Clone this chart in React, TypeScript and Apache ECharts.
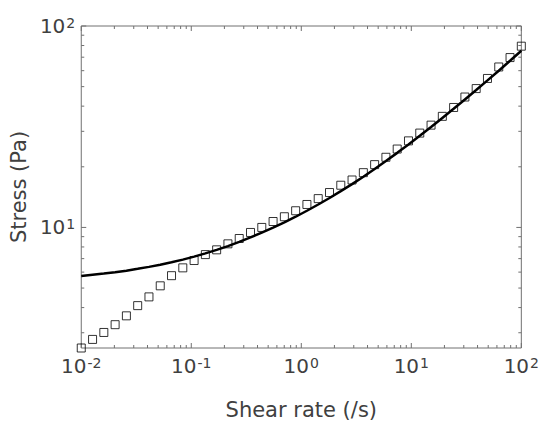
import React, { useEffect, useRef } from "react";
import * as echarts from "echarts";

// Measured data (shear rate in 1/s, stress in Pa)
const shearRate = [
  0.01, 0.01267, 0.01604, 0.02031, 0.02572, 0.03257, 0.04125, 0.05223, 0.06614, 0.08377,
  0.1061, 0.1343, 0.1701, 0.2154, 0.2728, 0.3455, 0.4375, 0.5541, 0.7017, 0.8886,
  1.125, 1.425, 1.805, 2.286, 2.894, 3.665, 4.642, 5.878, 7.444, 9.427,
  11.94, 15.12, 19.14, 24.24, 30.7, 38.88, 49.24, 62.35, 78.96, 100,
];
const stress = [
  2.52, 2.78, 3.01, 3.29, 3.64, 4.09, 4.52, 5.13, 5.76, 6.3,
  6.85, 7.33, 7.74, 8.29, 8.81, 9.44, 10.0, 10.7, 11.3, 12.1,
  13.0, 13.9, 14.9, 16.2, 17.2, 18.7, 20.5, 22.3, 24.5, 26.9,
  29.4, 32.2, 35.6, 39.4, 44.4, 48.9, 54.9, 62.6, 69.7, 79.4,
];

// Model fit curve at the same shear rates
const fitStress = [
  5.74, 5.82, 5.9, 5.99, 6.1, 6.23, 6.37, 6.53, 6.71, 6.92,
  7.16, 7.43, 7.74, 8.08, 8.48, 8.92, 9.42, 9.98, 10.6, 11.3,
  12.1, 13.0, 14.0, 15.15, 16.4, 17.85, 19.5, 21.35, 23.45, 25.8,
  28.5, 31.5, 34.95, 38.8, 43.2, 48.1, 53.7, 60.0, 67.2, 75.4,
];

// Axis ranges and ticks
const X_MIN = 0.01;
const X_MAX = 100;
const Y_MIN = 2.52;
const Y_MAX = 100;
const xMajorTicks = [0.01, 0.1, 1, 10, 100];
const xMinorTicks = [
  0.02, 0.03, 0.04, 0.05, 0.06, 0.07, 0.08, 0.09,
  0.2, 0.3, 0.4, 0.5, 0.6, 0.7, 0.8, 0.9,
  2, 3, 4, 5, 6, 7, 8, 9,
  20, 30, 40, 50, 60, 70, 80, 90,
];
const yMajorTicks = [10, 100];
const yMinorTicks = [3, 4, 5, 6, 7, 8, 9, 20, 30, 40, 50, 60, 70, 80, 90];

const TEXT = "#404040";
const AXIS = "#707070";
const FONT = "DejaVu Sans";

const MAJOR_LEN = 5;
const MINOR_LEN = 3;

function powLabel(v: number) {
  const l = Math.log10(v);
  const e = Math.round(l);
  if (Math.abs(l - e) > 1e-6) return "";
  return `{b|10}{s|${e}}`;
}

const richLabel = {
  b: { fontSize: 20, lineHeight: 20, verticalAlign: "bottom", color: TEXT, fontFamily: FONT },
  s: {
    fontSize: 14,
    lineHeight: 14,
    verticalAlign: "top",
    color: TEXT,
    fontFamily: FONT,
    padding: [0, 0, 11, 1],
  },
};

export default function App() {
  const ref = useRef<HTMLDivElement>(null);
  useEffect(() => {
    document.body.style.margin = "0";
    if (!ref.current) return;
    const chart = echarts.init(ref.current, undefined, { renderer: "svg" });

    const xTickRender = (params: any, api: any) => {
      const x = api.coord([api.value(0), api.value(1)])[0];
      const cs = params.coordSys;
      const len = api.value(2);
      const st = { stroke: AXIS, lineWidth: 1 };
      return {
        type: "group",
        children: [
          { type: "line", shape: { x1: x, y1: cs.y + cs.height, x2: x, y2: cs.y + cs.height - len }, style: st },
          { type: "line", shape: { x1: x, y1: cs.y, x2: x, y2: cs.y + len }, style: st },
        ],
      };
    };
    const yTickRender = (params: any, api: any) => {
      const y = api.coord([api.value(0), api.value(1)])[1];
      const cs = params.coordSys;
      const len = api.value(2);
      const st = { stroke: AXIS, lineWidth: 1 };
      return {
        type: "group",
        children: [
          { type: "line", shape: { x1: cs.x, y1: y, x2: cs.x + len, y2: y }, style: st },
          { type: "line", shape: { x1: cs.x + cs.width, y1: y, x2: cs.x + cs.width - len, y2: y }, style: st },
        ],
      };
    };

    chart.setOption({
      animation: false,
      backgroundColor: "#ffffff",
      grid: {
        left: 77,
        right: 18,
        top: 26,
        bottom: 59,
        show: true,
        borderColor: AXIS,
        borderWidth: 1,
        backgroundColor: "transparent",
      },
      xAxis: {
        type: "log",
        logBase: 10,
        min: X_MIN,
        max: X_MAX,
        axisLine: { show: false },
        axisTick: { show: false },
        splitLine: { show: false },
        minorTick: { show: false },
        axisLabel: { formatter: powLabel, rich: richLabel, margin: 8, color: TEXT },
        name: "Shear rate (/s)",
        nameLocation: "middle",
        nameGap: 51,
        nameTextStyle: { fontSize: 21, color: TEXT, fontFamily: FONT },
      },
      yAxis: {
        type: "log",
        logBase: 10,
        min: Y_MIN,
        max: Y_MAX,
        axisLine: { show: false },
        axisTick: { show: false },
        splitLine: { show: false },
        minorTick: { show: false },
        axisLabel: { formatter: powLabel, rich: richLabel, margin: 6, color: TEXT },
        name: "Stress (Pa)",
        nameLocation: "middle",
        nameGap: 46,
        nameTextStyle: { fontSize: 21, color: TEXT, fontFamily: FONT },
      },
      series: [
        {
          type: "line",
          data: shearRate.map((x, i) => [x, fitStress[i]]),
          showSymbol: false,
          smooth: false,
          lineStyle: { color: "#000", width: 2.5 },
          z: 3,
        },
        {
          type: "scatter",
          data: shearRate.map((x, i) => [x, stress[i]]),
          symbol: "rect",
          symbolSize: 8,
          clip: false,
          itemStyle: { color: "rgba(0,0,0,0)", borderColor: "#000", borderWidth: 1 },
          z: 4,
        },
        {
          type: "custom",
          renderItem: xTickRender,
          data: [
            ...xMajorTicks.map((v) => [v, Y_MIN, MAJOR_LEN]),
            ...xMinorTicks.map((v) => [v, Y_MIN, MINOR_LEN]),
          ],
          clip: false,
          silent: true,
          z: 2,
        },
        {
          type: "custom",
          renderItem: yTickRender,
          data: [
            ...yMajorTicks.map((v) => [X_MIN, v, MAJOR_LEN]),
            ...yMinorTicks.map((v) => [X_MIN, v, MINOR_LEN]),
          ],
          clip: false,
          silent: true,
          z: 2,
        },
      ],
    });
    return () => chart.dispose();
  }, []);
  return <div ref={ref} style={{ width: 542, height: 425 }} />;
}
